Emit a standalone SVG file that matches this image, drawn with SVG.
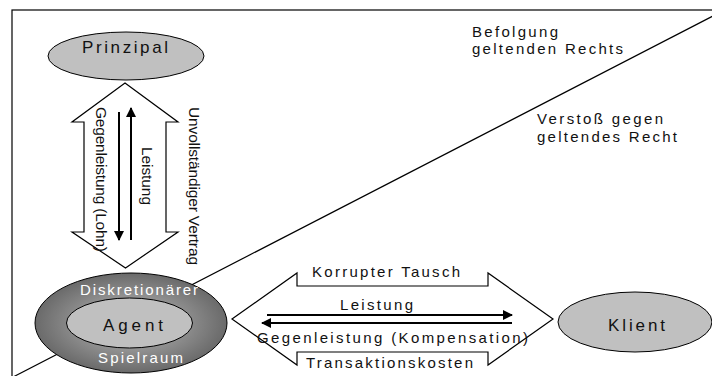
<svg xmlns="http://www.w3.org/2000/svg" width="712" height="376" viewBox="0 0 712 376">
<style>
text{font-family:"Liberation Sans",Arial,sans-serif;fill:#111}
.t14{font-size:15px}
.t15{font-size:15.5px}
.t17{font-size:17px}
.w{fill:#fff}
.big{fill:#fff;stroke:#000;stroke-width:1.2;stroke-linejoin:miter}
.ln{stroke:#000;stroke-width:2;fill:none}
.node{fill:#c0c0c0;stroke:#000;stroke-width:1}
</style>
<defs>
<marker id="ah" viewBox="0 0 10 10" refX="9" refY="5" markerWidth="5" markerHeight="5" markerUnits="strokeWidth" orient="auto">
<path d="M0,0 L10,5 L0,10 Z" fill="#000"/>
</marker>
<radialGradient id="dg" cx="0.5" cy="0.5" r="0.5">
<stop offset="0" stop-color="#c0c0c0"/>
<stop offset="1" stop-color="#6a6a6a"/>
</radialGradient>
</defs>
<rect x="0" y="0" width="712" height="376" fill="#fff"/>
<rect x="12" y="10" width="720" height="400" fill="none" stroke="#000" stroke-width="1.2"/>
<line x1="14" y1="376.5" x2="714" y2="15.5" stroke="#000" stroke-width="1.2"/>
<g id="regions">
<text class="t14" x="472" y="37" textLength="86" lengthAdjust="spacing">Befolgung</text>
<text class="t14" x="472" y="54" textLength="151" lengthAdjust="spacing">geltenden Rechts</text>
<text class="t14" x="537" y="124" textLength="126" lengthAdjust="spacing">Verstoß gegen</text>
<text class="t14" x="537" y="142" textLength="140" lengthAdjust="spacing">geltendes Recht</text>
</g>
<g id="connectors">
<g id="vertrag">
<polygon class="big" points="125,83 178,122 166,122 166,232 178,232 125.5,268 72,232 84,232 84,122 72,122"/>
<line class="ln" x1="119" y1="112" x2="119" y2="240" marker-end="url(#ah)"/>
<line class="ln" x1="131" y1="240" x2="131" y2="108" marker-end="url(#ah)"/>
<text class="t15" transform="translate(96,107) rotate(90)" textLength="145" lengthAdjust="spacing">Gegenleistung (Lohn)</text>
<text class="t15" transform="translate(141.5,147) rotate(90)" textLength="58" lengthAdjust="spacing">Leistung</text>
<text class="t15" transform="translate(189,107) rotate(90)" textLength="158" lengthAdjust="spacing">Unvollständiger Vertrag</text>
</g>
<g id="tausch">
<polygon class="big" points="232,319 297,273 297,286 488,286 488,273 553,319 488,365 488,352 297,352 297,365"/>
<line class="ln" x1="267" y1="315" x2="512" y2="315" marker-end="url(#ah)"/>
<line class="ln" x1="512" y1="323" x2="262" y2="323" marker-end="url(#ah)"/>
<text class="t14" x="312" y="277" textLength="148" lengthAdjust="spacing">Korrupter Tausch</text>
<text class="t14" x="340" y="310" textLength="73" lengthAdjust="spacing">Leistung</text>
<text class="t14" x="257" y="343" textLength="271" lengthAdjust="spacing">Gegenleistung (Kompensation)</text>
<text class="t14" x="306" y="368" textLength="167" lengthAdjust="spacing">Transaktionskosten</text>
</g>
</g>
<g id="principal">
<ellipse class="node" cx="126" cy="56" rx="78" ry="24"/>
<text class="t17" x="82" y="53" textLength="86" lengthAdjust="spacing">Prinzipal</text>
</g>
<g id="agent">
<ellipse cx="131" cy="323" rx="96" ry="50" fill="url(#dg)" stroke="#000" stroke-width="1"/>
<ellipse class="node" cx="129.5" cy="323" rx="63" ry="25"/>
<text class="t14 w" x="80" y="295" textLength="118" lengthAdjust="spacing">Diskretionärer</text>
<text class="t17" x="103" y="331" textLength="60" lengthAdjust="spacing">Agent</text>
<text class="t14 w" x="98" y="363" textLength="85" lengthAdjust="spacing">Spielraum</text>
</g>
<g id="klient">
<ellipse class="node" cx="635" cy="322" rx="77" ry="30"/>
<text class="t17" x="608" y="331" textLength="57" lengthAdjust="spacing">Klient</text>
</g>
</svg>
